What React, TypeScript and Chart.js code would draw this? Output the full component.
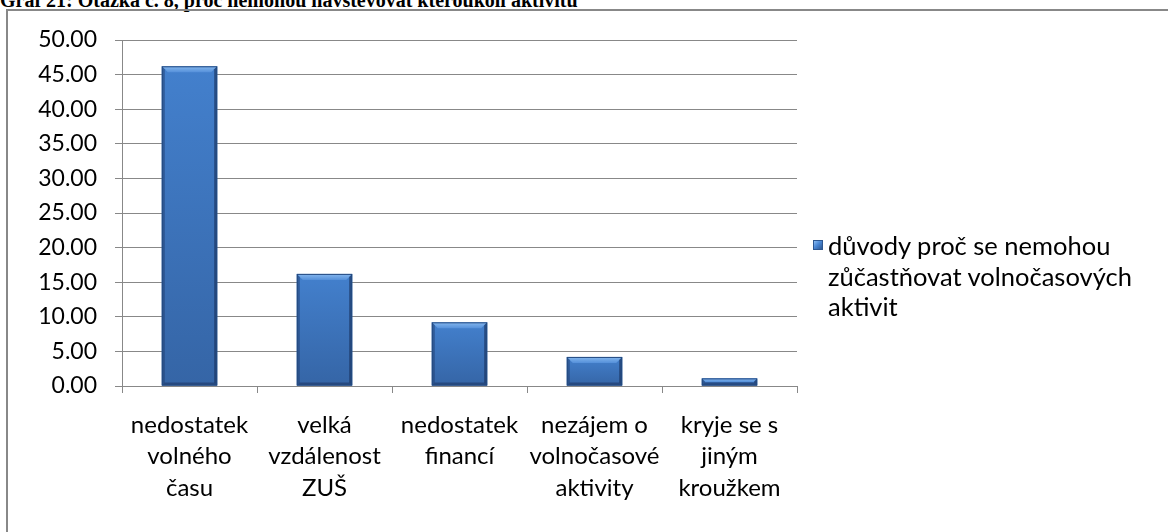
import React, { useEffect, useRef } from "react";
import { Chart, registerables } from "chart.js";

Chart.register(...registerables);

const categories: string[][] = [
  ["nedostatek", "volného", "času"],
  ["velká", "vzdálenost", "ZUŠ"],
  ["nedostatek", "financí"],
  ["nezájem o", "volnočasové", "aktivity"],
  ["kryje se s", "jiným", "kroužkem"],
];
const values: number[] = [46.2, 16.2, 9.2, 4.2, 1.1];
const seriesLabel = "důvody proč se nemohou zůčastňovat volnočasových aktivit";
const legendLines: string[] = ["důvody proč se nemohou", "zůčastňovat volnočasových", "aktivit"];
const titleText = "Graf 21: Otázka č. 8, proč nemohou navštěvovat kteroukoli aktivitu";
const yMax = 50;
const yStep = 5;

const FONT = "Lato, 'Noto Sans', sans-serif";

const bevelPlugin = {
  id: "bevelBars",
  afterDatasetsDraw(chart: any) {
    const ctx = chart.ctx as CanvasRenderingContext2D;
    const meta = chart.getDatasetMeta(0);
    meta.data.forEach((el: any) => {
      const { x, y, base, width } = el.getProps(["x", "y", "base", "width"], true);
      const l = x - width / 2;
      const r = x + width / 2;
      const t = Math.min(y, base);
      const bt = Math.max(y, base);
      const h = bt - t;
      const b = Math.min(6, h / 2);
      const s = Math.min(3, h / 2);
      ctx.save();
      const g = ctx.createLinearGradient(0, t, 0, bt);
      g.addColorStop(0, "#4380cd");
      g.addColorStop(1, "#3565a6");
      ctx.fillStyle = g;
      ctx.fillRect(l, t, width, h);
      // top bevel
      const gt = ctx.createLinearGradient(0, t, 0, t + b);
      gt.addColorStop(0, "#86b8ee");
      gt.addColorStop(1, "#5590da");
      ctx.fillStyle = gt;
      ctx.beginPath();
      ctx.moveTo(l, t);
      ctx.lineTo(r, t);
      ctx.lineTo(r - b, t + b);
      ctx.lineTo(l + b, t + b);
      ctx.closePath();
      ctx.fill();
      // left edge
      ctx.fillStyle = "rgba(30,60,110,0.5)";
      ctx.beginPath();
      ctx.moveTo(l, t);
      ctx.lineTo(l + s, t + s);
      ctx.lineTo(l + s, bt - s);
      ctx.lineTo(l, bt);
      ctx.closePath();
      ctx.fill();
      // right edge
      ctx.fillStyle = "rgba(25,50,95,0.65)";
      ctx.beginPath();
      ctx.moveTo(r, t);
      ctx.lineTo(r - s, t + s);
      ctx.lineTo(r - s, bt - s);
      ctx.lineTo(r, bt);
      ctx.closePath();
      ctx.fill();
      // bottom edge
      ctx.fillStyle = "rgba(25,50,95,0.55)";
      ctx.beginPath();
      ctx.moveTo(l, bt);
      ctx.lineTo(l + s, bt - s);
      ctx.lineTo(r - s, bt - s);
      ctx.lineTo(r, bt);
      ctx.closePath();
      ctx.fill();
      ctx.strokeStyle = "#244a80";
      ctx.lineWidth = 1;
      ctx.strokeRect(l + 0.5, t + 0.5, width - 1, h - 1);
      ctx.restore();
    });
  },
};

export default function App() {
  const canvasRef = useRef<HTMLCanvasElement | null>(null);

  useEffect(() => {
    const canvas = canvasRef.current;
    if (!canvas) return;
    const chart = new Chart(canvas, {
      type: "bar",
      data: {
        labels: categories,
        datasets: [
          {
            label: seriesLabel,
            data: values,
            backgroundColor: "#3d74bb",
            borderWidth: 0,
            barPercentage: 0.41,
            categoryPercentage: 1,
          },
        ],
      },
      options: {
        animation: false,
        responsive: false,
        maintainAspectRatio: false,
        layout: { padding: { left: 0, top: 40, right: 371, bottom: 0 } },
        plugins: {
          legend: { display: false },
          tooltip: { enabled: false },
          title: { display: false },
        },
        scales: {
          x: {
            afterFit(scale: any) {
              scale.height = 146;
            },
            grid: {
              display: true,
              drawOnChartArea: false,
              drawTicks: true,
              tickLength: 7,
              color: "#888888",
              lineWidth: 1,
            },
            border: { display: true, color: "#888888", width: 1 },
            ticks: {
              color: "#000000",
              maxRotation: 0,
              minRotation: 0,
              autoSkip: false,
              padding: 16,
              font: { family: FONT, size: 24, lineHeight: 1.32 },
            },
          },
          y: {
            min: 0,
            max: yMax,
            afterFit(scale: any) {
              scale.width = 122;
            },
            grid: {
              color: "#888888",
              lineWidth: 1,
              tickLength: 7,
              drawTicks: true,
            },
            border: { display: true, color: "#888888", width: 1 },
            ticks: {
              stepSize: yStep,
              color: "#000000",
              padding: 18,
              font: { family: FONT, size: 23 },
              callback: (v: any) => Number(v).toFixed(2),
            },
          },
        },
      },
      plugins: [bevelPlugin],
    });
    return () => chart.destroy();
  }, []);

  return (
    <div style={{ position: "fixed", left: 0, top: 0, width: 1168, height: 532, overflow: "hidden", background: "#fff" }}>
      <div
        style={{
          position: "absolute",
          left: 0,
          top: -10,
          fontFamily: "'Liberation Serif', 'Times New Roman', serif",
          fontWeight: "bold",
          fontSize: 20,
          lineHeight: "20px",
          whiteSpace: "nowrap",
          color: "#000",
        }}
      >
        {titleText}
      </div>
      <div
        style={{
          position: "absolute",
          left: 6,
          top: 9,
          width: 1220,
          height: 600,
          border: "2px solid #888888",
          boxSizing: "border-box",
        }}
      />
      <canvas ref={canvasRef} width={1168} height={532} style={{ position: "absolute", left: 0, top: 0, width: 1168, height: 532 }} />
      <div
        style={{
          position: "absolute",
          left: 813,
          top: 230,
          fontFamily: FONT,
          fontSize: 25.5,
          lineHeight: "30.5px",
          color: "#000",
        }}
      >
        {legendLines.map((line, i) => (
          <div key={i} style={{ position: "relative", paddingLeft: 15, whiteSpace: "nowrap" }}>
            {i === 0 && (
              <span
                style={{
                  position: "absolute",
                  left: 0,
                  top: 10,
                  width: 10,
                  height: 10,
                  boxSizing: "border-box",
                  background: "linear-gradient(135deg, #8dbdf2 0%, #4a88d6 45%, #2d5791 100%)",
                  border: "1px solid #2d5791",
                }}
              />
            )}
            {line}
          </div>
        ))}
      </div>
    </div>
  );
}
